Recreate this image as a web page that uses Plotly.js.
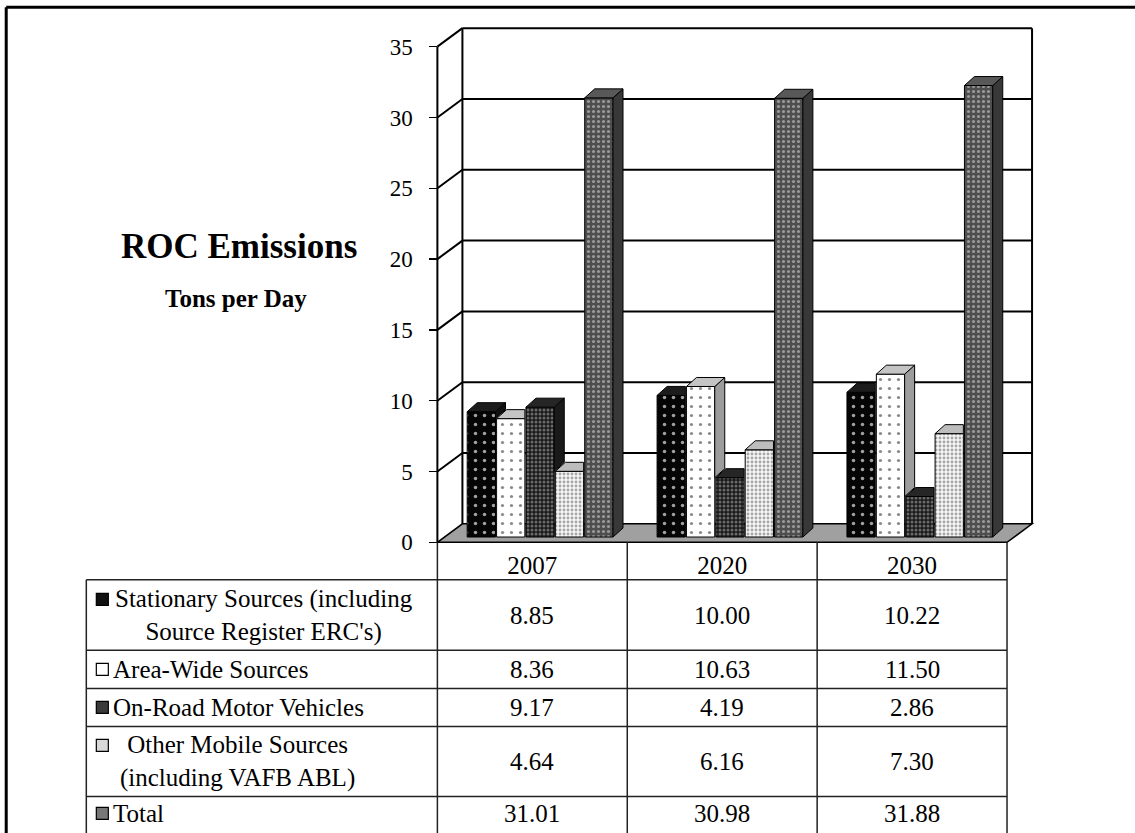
<!DOCTYPE html>
<html><head><meta charset="utf-8">
<script src="https://cdn.plot.ly/plotly-3.0.1.min.js"></script>
<style>html,body{margin:0;padding:0;background:#fff;}#chart{width:1135px;height:833px;}</style>
</head><body><div id="chart"></div>
<script>
// ---------------- data ----------------
const categories = ['2007', '2020', '2030'];
const seriesNames = ["Stationary Sources (including Source Register ERC's)", 'Area-Wide Sources', 'On-Road Motor Vehicles', 'Other Mobile Sources (including VAFB ABL)', 'Total'];
const stationarySources = [8.85, 10.00, 10.22];
const areaWideSources = [8.36, 10.63, 11.50];
const onRoadMotorVehicles = [9.17, 4.19, 2.86];
const otherMobileSources = [4.64, 6.16, 7.30];
const totalEmissions = [31.01, 30.98, 31.88];
const yTickValues = [0, 5, 10, 15, 20, 25, 30, 35];
const rowLabelLines = [
  ['Stationary Sources (including', "Source Register ERC's)"],
  ['Area-Wide Sources'],
  ['On-Road Motor Vehicles'],
  ['Other Mobile Sources', '(including VAFB ABL)'],
  ['Total']
];
const chartTitle = 'ROC Emissions';
const unitLabel = 'Tons per Day';
const seriesValues = [stationarySources, areaWideSources, onRoadMotorVehicles, otherMobileSources, totalEmissions];

// ---------------- geometry / style ----------------
const FONT = 'Liberation Serif, Times New Roman, serif';
const X0 = 437.7, XU = 189.67;   // pixel of x=0, px per category
const Y0 = 542, YU = 14.157;     // pixel of y=0, px per ton
const XR = [-0.06, 3.2], YR = [-0.4, 36.6];
const PL = X0 + XR[0] * XU, PR = X0 + XR[1] * XU;
const PB = Y0 - YR[0] * YU, PT = Y0 - YR[1] * YU;
const px = p => (p - PL) / (PR - PL);
const py = p => (PB - p) / (PB - PT);
const DX = 25 / XU, DY = 18.5 / YU;       // wall depth
const DXB = 10 / XU, DYB = 9 / YU;        // bar depth
const BASE = 5.3 / YU;                    // bar front base
const OFF0 = 0.157, PITCH = 0.1547, BW = 0.149;
const YMAX = yTickValues[yTickValues.length - 1];

const styles = [
  {bg: '#050505', fg: '#a0a0a0', size: 9, sol: 0.12, top: '#1c1c1c', side: '#101010', key: '#111'},
  {bg: '#ffffff', fg: '#8a8a8a', size: 9, sol: 0.10, top: '#c4c4c4', side: '#9c9c9c', key: '#fff'},
  {bg: '#1a1a1a', fg: '#6a6a6a', size: 4, sol: 0.45, top: '#262626', side: '#1a1a1a', key: '#3a3a3a'},
  {bg: '#f6f6f6', fg: '#a6a6a6', size: 4, sol: 0.40, top: '#bdbdbd', side: '#9a9a9a', key: '#d8d8d8'},
  {bg: '#4e4e4e', fg: '#9a9a9a', size: 5, sol: 0.30, top: '#585858', side: '#383838', key: '#777'}
];

const traces = [];
// front faces: real bar traces
seriesValues.forEach((vals, j) => {
  const s = styles[j];
  traces.push({
    type: 'bar', name: seriesNames[j], x: categories.map((c, i) => i), y: vals,
    base: BASE, width: BW, offset: OFF0 + j * PITCH,
    marker: {color: s.bg, line: {color: '#000', width: 1},
      pattern: {shape: '.', bgcolor: s.bg, fgcolor: s.fg, fgopacity: 1, size: s.size, solidity: s.sol}},
    customdata: categories, hovertemplate: '%{customdata}: %{y:.2f}<extra>' + seriesNames[j] + '</extra>',
    showlegend: false
  });
});
// top and side faces computed from the same values
seriesValues.forEach((vals, j) => {
  const s = styles[j];
  const tx = [], ty = [], sx = [], sy = [];
  vals.forEach((v, i) => {
    const L = i + OFF0 + j * PITCH, R = L + BW, top = BASE + v;
    const next = j < seriesValues.length - 1 ? seriesValues[j + 1][i] : null;
    if (next !== null && next > v) {
      tx.push(L, R, R, L + DXB, L, null); ty.push(top, top, top + DYB, top + DYB, top, null);
    } else {
      tx.push(L, R, R + DXB, L + DXB, L, null); ty.push(top, top, top + DYB, top + DYB, top, null);
    }
    const low = next === null ? 0 : Math.max(next, 0);
    if (low < v) {
      const yl = BASE + low;
      sx.push(R, R, R + DXB, R + DXB, R, null); sy.push(yl, top, top + DYB, yl + DYB, yl, null);
    }
  });
  traces.push({type: 'scatter', mode: 'lines', x: sx, y: sy, fill: 'toself', fillcolor: s.side,
    line: {color: '#000', width: 1}, hoverinfo: 'skip', showlegend: false});
  traces.push({type: 'scatter', mode: 'lines', x: tx, y: ty, fill: 'toself', fillcolor: s.top,
    line: {color: '#000', width: 1}, hoverinfo: 'skip', showlegend: false});
});

// ---------------- shapes ----------------
const shapes = [];
const nCat = categories.length;
shapes.push({type: 'path', layer: 'below', xref: 'x', yref: 'y',
  path: `M 0,0 L ${nCat},0 L ${nCat + DX},${DY} L ${DX},${DY} Z`,
  fillcolor: '#a0a0a0', line: {color: '#000', width: 1.5}});
const wl = (x0, y0, x1, y1, w) => ({type: 'line', layer: 'below', xref: 'x', yref: 'y', x0, y0, x1, y1, line: {color: '#000', width: w || 2}});
shapes.push(wl(DX, DY, DX, YMAX + DY));
shapes.push(wl(nCat + DX, DY, nCat + DX, YMAX + DY));
yTickValues.forEach(v => {
  if (v === 0) return;
  shapes.push(wl(DX, v + DY, nCat + DX, v + DY));
  shapes.push(wl(0, v, DX, v + DY));
});
shapes.push(wl(0, 0, 0, YMAX));

// table
const pl = (x0, y0, x1, y1, w, c) => ({type: 'line', xref: 'paper', yref: 'paper', x0: px(x0), y0: py(y0), x1: px(x1), y1: py(y1), line: {color: c || '#222', width: w || 1.5}});
const TL = 87, HB = 579.5, TB = 840;
const rowLines = [650, 688, 726, 796];
for (let k = 0; k <= nCat; k++) shapes.push(pl(X0 + k * XU, Y0, X0 + k * XU, TB));
shapes.push(pl(TL, HB, X0 + nCat * XU, HB));
rowLines.forEach(y => shapes.push(pl(TL, y, X0 + nCat * XU, y)));
shapes.push(pl(TL, HB, TL, TB));
// frame
shapes.push(pl(7, 7, 1140, 7, 3, '#000'));
shapes.push(pl(7, 7, 7, 840, 3, '#000'));

// ---------------- annotations ----------------
const annotations = [];
const ann = (x, y, text, size, opts) => Object.assign({xref: 'paper', yref: 'paper', x: px(x), y: py(y), text,
  showarrow: false, xanchor: 'center', yanchor: 'middle', borderpad: 0, font: {family: FONT, size, color: '#000'}}, opts || {});
annotations.push(ann(240, 246, '<b>' + chartTitle + '</b>', 35));
annotations.push(ann(237, 298, '<b>' + unitLabel + '</b>', 25));

const TFS = 25;
const rowCenters = [615, 669, 707, 761, 813];
const labelPos = [{x: 264, a: 'center'}, {x: 113, a: 'left'}, {x: 113, a: 'left'}, {x: 238, a: 'center'}, {x: 113, a: 'left'}];
const keyY = [599, 669, 707, 745, 813];
rowLabelLines.forEach((lines, r) => {
  annotations.push(ann(labelPos[r].x, rowCenters[r], lines.join('<br>'), TFS, {xanchor: labelPos[r].a, align: 'center'}));
  shapes.push({type: 'rect', xref: 'paper', yref: 'paper', x0: px(97), x1: px(109), y0: py(keyY[r] - 6), y1: py(keyY[r] + 6),
    fillcolor: styles[r].key, line: {color: '#000', width: 1.2}});
  seriesValues[r].forEach((v, c) => annotations.push(ann(X0 + (c + 0.5) * XU, rowCenters[r], v.toFixed(2), TFS)));
});

const layout = {
  width: 1135, height: 833,
  margin: {l: PL, r: 1135 - PR, t: PT, b: 833 - PB, pad: 0},
  paper_bgcolor: '#fff', plot_bgcolor: 'rgba(0,0,0,0)',
  barmode: 'overlay', showlegend: false,
  xaxis: {range: XR, tickvals: categories.map((c, i) => i + 0.5), ticktext: categories, ticks: '',
    showgrid: false, zeroline: false, showline: false, fixedrange: true,
    tickfont: {family: FONT, size: 25, color: '#000'}},
  yaxis: {range: YR, anchor: 'free', position: px(X0), tickvals: yTickValues, ticks: 'outside', ticklen: 8,
    tickwidth: 1.5, tickcolor: '#000', showgrid: false, zeroline: false, showline: false, fixedrange: true,
    ticklabelstandoff: 12, tickfont: {family: FONT, size: 23, color: '#000'}},
  shapes, annotations
};
Plotly.newPlot('chart', traces, layout, {displayModeBar: false, staticPlot: true});
</script></body></html>
